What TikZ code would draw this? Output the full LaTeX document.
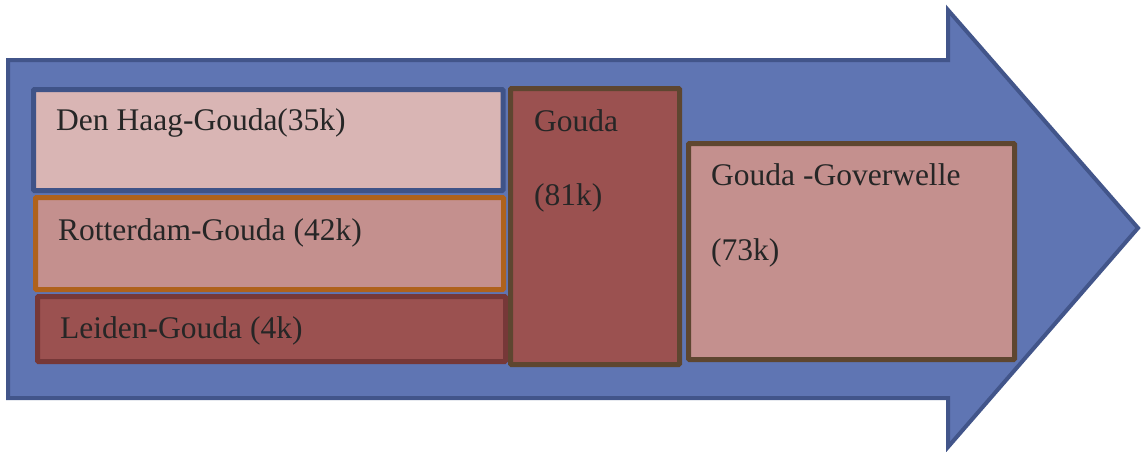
\documentclass[tikz,border=0pt]{standalone}
\usepackage{fontspec}
\setmainfont{Liberation Serif}
\begin{document}
\definecolor{arrowfill}{HTML}{5F75B3}
\definecolor{arrowline}{HTML}{42558A}
\definecolor{palepink}{HTML}{D9B5B4}
\definecolor{rosepink}{HTML}{C4908E}
\definecolor{brickred}{HTML}{9B5150}
\definecolor{navyline}{HTML}{3F5388}
\definecolor{orangeline}{HTML}{AF621C}
\definecolor{maroonline}{HTML}{763838}
\definecolor{brownline}{HTML}{5E4630}
\definecolor{inktext}{HTML}{262626}
\begin{tikzpicture}[x=1pt,y=-1pt,
  flowbox/.style={draw, line width=5pt, rounded corners=1pt},
  boxtext/.style={anchor=base west, inner sep=0pt, text=inktext,
    font=\fontsize{31.5}{37}\selectfont}]
\useasboundingbox (0,0) rectangle (1141,451);

% big block arrow
\draw[fill=arrowfill, draw=arrowline, line width=4pt, line join=miter]
  (8,60) -- (948,60) -- (948,10) -- (1138,228) -- (948,447)
  -- (948,398) -- (8,398) -- cycle;

% route boxes
\draw[flowbox, fill=palepink, draw=navyline] (33.5,89.5) rectangle (503,190.5);
\draw[flowbox, fill=rosepink, draw=orangeline] (35.5,197.5) rectangle (503.5,289.5);
\draw[flowbox, fill=brickred, draw=maroonline] (37.5,296.5) rectangle (505.5,361.5);
\draw[flowbox, fill=brickred, draw=brownline] (510.5,88.5) rectangle (679.5,364.5);
\draw[flowbox, fill=rosepink, draw=brownline] (688.5,143.5) rectangle (1014.5,359.5);

% labels
\node[boxtext] (denhaag) at (56,130) {Den Haag-Gouda(35k)};
\node[boxtext] (rotterdam) at (58,240) {Rotterdam-Gouda (42k)};
\node[boxtext] (leiden) at (60,338) {Leiden-Gouda (4k)};
\node[boxtext] (gouda) at (534,131) {Gouda};
\node[boxtext] (goudanum) at (534,205) {(81k)};
\node[boxtext] (goverwelle) at (711,185) {Gouda -Goverwelle};
\node[boxtext] (goverwellenum) at (711,260) {(73k)};
\end{tikzpicture}
\end{document}
